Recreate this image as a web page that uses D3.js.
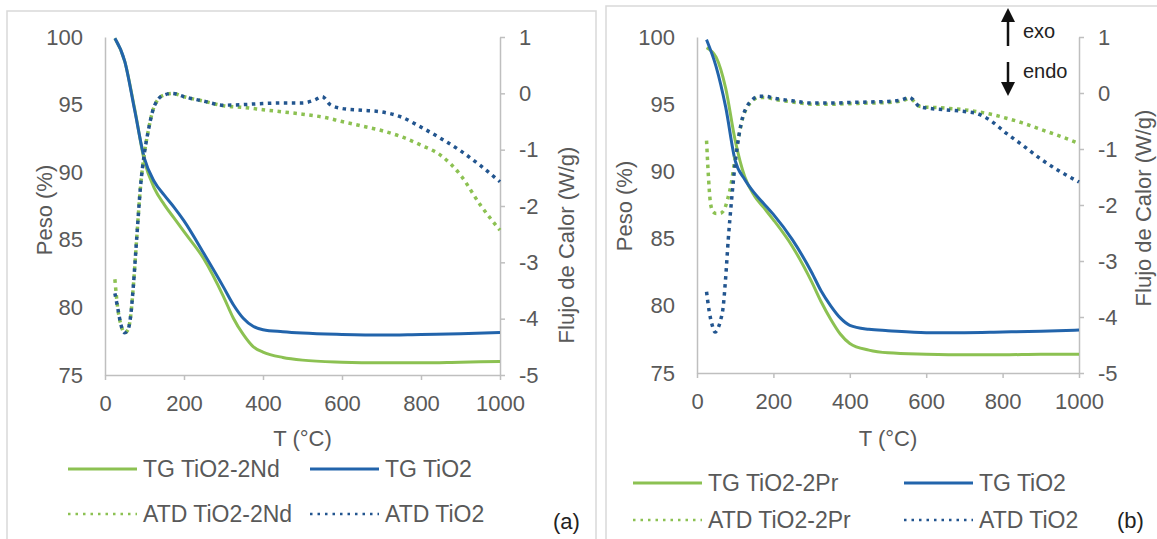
<!DOCTYPE html>
<meta charset="utf-8">
<style>
body{
  margin: 0;
  background-color: white;
}
svg{
  font-family: "Liberation Sans", Arial, sans-serif;
}
.tick text{
  fill: #595959;
}
</style>
<body>
<svg class="chart" width="1157" height="539"></svg>
<script src="https://cdn.jsdelivr.net/npm/d3@7/dist/d3.min.js"></script>

<script>
// tick labels
var tempTicks = [0, 200, 400, 600, 800, 1000];
var pesoTicks = [75, 80, 85, 90, 95, 100];
var flujoTicks = [-5, -4, -3, -2, -1, 0, 1];

// TG curves (peso %), shared temperature grid
var tgTemp = [25, 50, 75, 100, 125, 150, 175, 200, 250, 300, 325, 350, 375, 400, 450, 500, 600, 700, 800, 900, 1000];
var tgNd    = [99.9, 98.2, 94.7, 90.8, 88.8, 87.6, 86.6, 85.6, 83.6, 80.8, 79.2, 78.0, 77.1, 76.7, 76.3, 76.1, 75.95, 75.9, 75.9, 75.95, 76.0];
var tgTiO2a = [99.9, 98.2, 94.6, 91.0, 89.3, 88.3, 87.4, 86.4, 84.0, 81.5, 80.2, 79.2, 78.6, 78.35, 78.2, 78.1, 78.0, 77.95, 78.0, 78.05, 78.15];
var tgPr    = [99.2, 98.5, 96.2, 92.3, 89.6, 88.2, 87.3, 86.4, 84.4, 81.8, 80.3, 79.0, 77.9, 77.2, 76.7, 76.5, 76.4, 76.35, 76.35, 76.4, 76.4];
var tgTiO2b = [99.8, 97.8, 94.8, 90.8, 89.4, 88.4, 87.6, 86.8, 84.9, 82.5, 81.1, 80.0, 79.1, 78.55, 78.25, 78.15, 78.0, 78.0, 78.05, 78.1, 78.2];

// ATD curves (flujo W/g), panel (a)
var atdNdTemp = [25, 32, 40, 50, 58, 65, 72, 80, 90, 100, 110, 120, 135, 150, 170, 200, 250, 300, 350, 400, 450, 500, 550, 600, 650, 700, 750, 800, 850, 900, 950, 1000];
var atdNd     = [-3.3, -3.8, -4.1, -4.25, -4.2, -3.95, -3.4, -2.6, -1.65, -1.05, -0.65, -0.33, -0.1, -0.03, 0.0, -0.06, -0.14, -0.22, -0.25, -0.29, -0.33, -0.37, -0.42, -0.5, -0.58, -0.66, -0.77, -0.92, -1.1, -1.45, -1.98, -2.43];
var atdTiO2aTemp = [25, 32, 40, 50, 58, 65, 72, 80, 90, 100, 110, 120, 135, 150, 170, 200, 250, 300, 350, 400, 450, 500, 530, 550, 570, 600, 650, 700, 750, 800, 850, 900, 950, 1000];
var atdTiO2a     = [-3.55, -3.8, -4.1, -4.25, -4.2, -3.95, -3.4, -2.6, -1.65, -1.05, -0.65, -0.33, -0.1, -0.03, 0.0, -0.06, -0.14, -0.21, -0.2, -0.18, -0.17, -0.17, -0.12, -0.06, -0.2, -0.27, -0.3, -0.33, -0.42, -0.6, -0.8, -1.02, -1.28, -1.57];

// ATD curves (flujo W/g), panel (b)
var atdPrTemp = [25, 30, 35, 42, 50, 60, 70, 80, 90, 100, 110, 120, 130, 145, 160, 180, 200, 250, 300, 350, 400, 450, 500, 537, 556, 585, 650, 700, 730, 770, 810, 850, 900, 950, 1000];
var atdPr     = [-0.85, -1.5, -1.95, -2.12, -2.15, -2.15, -2.1, -1.9, -1.6, -1.15, -0.75, -0.44, -0.27, -0.14, -0.08, -0.08, -0.11, -0.16, -0.2, -0.2, -0.19, -0.18, -0.17, -0.14, -0.1, -0.24, -0.27, -0.3, -0.33, -0.38, -0.45, -0.53, -0.65, -0.77, -0.9];
var atdTiO2bTemp = [25, 32, 40, 47, 55, 62, 68, 75, 82, 90, 100, 110, 120, 130, 145, 160, 180, 200, 250, 300, 350, 400, 450, 500, 537, 556, 585, 650, 700, 730, 770, 810, 850, 900, 950, 1000];
var atdTiO2b     = [-3.55, -3.9, -4.15, -4.27, -4.2, -4.05, -3.85, -3.3, -2.6, -1.95, -1.25, -0.75, -0.42, -0.25, -0.12, -0.06, -0.06, -0.09, -0.14, -0.18, -0.18, -0.17, -0.16, -0.15, -0.12, -0.08, -0.25, -0.3, -0.33, -0.36, -0.5, -0.72, -0.92, -1.18, -1.4, -1.59];

// legend labels
var legendA = ["TG TiO2-2Nd", "TG TiO2", "ATD TiO2-2Nd", "ATD TiO2"];
var legendB = ["TG TiO2-2Pr", "TG TiO2", "ATD TiO2-2Pr", "ATD TiO2"];
</script>

<script>
var svg = d3.select('svg');

var green = '#8cc152';
var blue = '#2264ab';
var blueDot = '#22558f';
var axisGray = '#bfbfbf';
var textGray = '#595959';

// plain labels, hyphen minus like the original
var plain = function (d) { return String(d); };

function zip (xs, ys) {
  return xs.map(function (t, i) { return [t, ys[i]]; });
}

function drawPanel (p) {
  var g = svg.append('g');

  // panel frame
  g.append('rect')
    .attr('x', p.frame[0]).attr('y', p.frame[1])
    .attr('width', p.frame[2]).attr('height', p.frame[3])
    .attr('fill', 'none').attr('stroke', '#d9d9d9').attr('stroke-width', 1.5);

  var x = d3.scaleLinear().domain([0, 1000]).range([p.left, p.right]);
  var yP = d3.scaleLinear().domain([75, 100]).range([p.bottom, p.top]);
  var yF = d3.scaleLinear().domain([-5, 1]).range([p.bottom, p.top]);

  var ax = g.append('g').attr('transform', 'translate(0,' + p.bottom + ')')
    .call(d3.axisBottom(x).tickValues(tempTicks).tickFormat(plain)
      .tickSize(5).tickSizeOuter(0).tickPadding(15));
  var ayl = g.append('g').attr('transform', 'translate(' + p.left + ',0)')
    .call(d3.axisLeft(yP).tickValues(pesoTicks).tickFormat(plain)
      .tickSize(0).tickPadding(22));
  var ayr = g.append('g').attr('transform', 'translate(' + p.right + ',0)')
    .call(d3.axisRight(yF).tickValues(flujoTicks).tickFormat(plain)
      .tickSize(5).tickSizeOuter(0).tickPadding(14));

  [ax, ayl, ayr].forEach(function (a) {
    a.attr('font-size', 22).attr('font-family', null);
    a.select('.domain').attr('stroke', axisGray).attr('stroke-width', 1.5);
    a.selectAll('.tick line').attr('stroke', axisGray).attr('stroke-width', 1.5);
  });

  // axis titles
  g.append('text').attr('x', p.left + (p.right - p.left) / 2).attr('y', 446)
    .attr('text-anchor', 'middle').attr('font-size', 22).attr('fill', textGray)
    .text('T (°C)');
  g.append('text').attr('transform', 'translate(' + p.pesoTitle[0] + ',' + p.pesoTitle[1] + ') rotate(-90)')
    .attr('text-anchor', 'middle').attr('dy', '0.35em').attr('font-size', 22).attr('fill', textGray)
    .text('Peso (%)');
  g.append('text').attr('transform', 'translate(' + p.flujoTitle[0] + ',' + p.flujoTitle[1] + ') rotate(-90)')
    .attr('text-anchor', 'middle').attr('dy', '0.35em').attr('font-size', 22).attr('fill', textGray)
    .text('Flujo de Calor (W/g)');

  var linePeso = d3.line().x(function (d) { return x(d[0]); }).y(function (d) { return yP(d[1]); })
    .curve(d3.curveMonotoneX);
  var lineFlujo = d3.line().x(function (d) { return x(d[0]); }).y(function (d) { return yF(d[1]); })
    .curve(d3.curveMonotoneX);

  var plot = g.append('g').attr('fill', 'none');
  plot.append('path').attr('d', linePeso(p.tgMix)).attr('stroke', green).attr('stroke-width', 3);
  plot.append('path').attr('d', linePeso(p.tgRef)).attr('stroke', blue).attr('stroke-width', 3);
  plot.append('path').attr('d', lineFlujo(p.atdMix)).attr('stroke', green).attr('stroke-width', 3.5)
    .attr('stroke-dasharray', '3.5,4.5');
  plot.append('path').attr('d', lineFlujo(p.atdRef)).attr('stroke', blueDot).attr('stroke-width', 3.5)
    .attr('stroke-dasharray', '3.5,4.5');

  // legend
  var styles = [
    {c: green, dash: null, w: 3},
    {c: blue, dash: null, w: 3},
    {c: green, dash: '2.5,5', w: 2.5},
    {c: blueDot, dash: '2.5,5', w: 2.5}
  ];
  p.legend.forEach(function (name, i) {
    var col = i % 2, row = Math.floor(i / 2);
    var lx = p.legendCols[col], ly = p.legendRows[row];
    g.append('line')
      .attr('x1', lx).attr('x2', lx + 69).attr('y1', ly).attr('y2', ly)
      .attr('stroke', styles[i].c).attr('stroke-width', styles[i].w)
      .attr('stroke-dasharray', styles[i].dash);
    g.append('text').attr('x', lx + 75).attr('y', ly).attr('dy', '0.35em')
      .attr('font-size', 23).attr('fill', textGray).text(name);
  });

  g.append('text').attr('x', p.tag[0]).attr('y', p.tag[1])
    .attr('font-size', 22).attr('fill', '#222').text(p.tagText);
}

drawPanel({
  frame: [7, 11, 589, 540],
  left: 105, right: 500, top: 37, bottom: 375,
  pesoTitle: [44, 210], flujoTitle: [566, 245],
  tgMix: zip(tgTemp, tgNd), tgRef: zip(tgTemp, tgTiO2a),
  atdMix: zip(atdNdTemp, atdNd), atdRef: zip(atdTiO2aTemp, atdTiO2a),
  legend: legendA, legendCols: [68, 310], legendRows: [469, 514],
  tag: [553, 529], tagText: '(a)'
});

drawPanel({
  frame: [606, 6, 560, 545],
  left: 697, right: 1079, top: 37, bottom: 373,
  pesoTitle: [624, 206], flujoTitle: [1143, 208],
  tgMix: zip(tgTemp, tgPr), tgRef: zip(tgTemp, tgTiO2b),
  atdMix: zip(atdPrTemp, atdPr), atdRef: zip(atdTiO2bTemp, atdTiO2b),
  legend: legendB, legendCols: [633, 904], legendRows: [483, 520],
  tag: [1117, 528], tagText: '(b)'
});

// exo / endo arrows
var arrows = svg.append('g').attr('fill', '#111').attr('stroke', '#111');
arrows.append('line').attr('x1', 1008).attr('x2', 1008).attr('y1', 46).attr('y2', 20).attr('stroke-width', 2.5);
arrows.append('path').attr('d', 'M1001,22 L1008,8 L1015,22 Z').attr('stroke', 'none');
arrows.append('line').attr('x1', 1008).attr('x2', 1008).attr('y1', 62).attr('y2', 84).attr('stroke-width', 2.5);
arrows.append('path').attr('d', 'M1001,82 L1008,96 L1015,82 Z').attr('stroke', 'none');
svg.append('text').attr('x', 1023).attr('y', 38).attr('font-size', 20).attr('fill', '#222').text('exo');
svg.append('text').attr('x', 1023).attr('y', 78).attr('font-size', 20).attr('fill', '#222').text('endo');
</script>
</body>
